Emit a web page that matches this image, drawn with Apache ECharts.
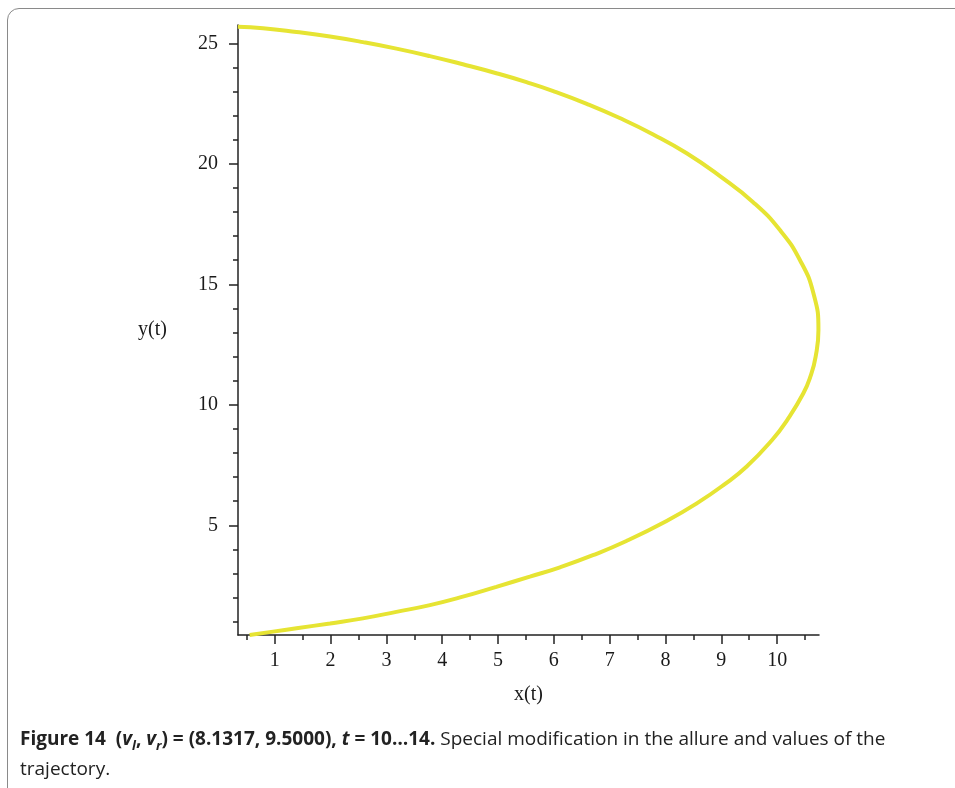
<!DOCTYPE html>
<html>
<head>
<meta charset="utf-8">
<script src="https://cdn.jsdelivr.net/npm/echarts@6/dist/echarts.min.js"></script>
<style>
  html, body {
    margin: 0;
    padding: 0;
    background: #ffffff;
    width: 955px;
    height: 788px;
    overflow: hidden;
  }
  .frame {
    position: absolute;
    left: 7px;
    top: 8px;
    width: 1200px;
    height: 1000px;
    border: 1px solid #8a8a8a;
    border-radius: 12px;
  }
  #chart {
    position: absolute;
    left: 0;
    top: 0;
    width: 955px;
    height: 788px;
  }
  .caption {
    position: absolute;
    left: 20px;
    top: 723px;
    font-family: "Open Sans", "Noto Sans", sans-serif;
    font-size: 19px;
    line-height: 30px;
    color: #222;
    white-space: nowrap;
  }
  .caption b {
    font-weight: 700;
  }
  .caption sub {
    font-size: 13px;
    line-height: 0;
  }
</style>
</head>
<body>
<div class="frame"></div>
<div id="chart"></div>
<div class="caption" id="caption"><b>Figure 14&nbsp; (<i>v<sub>l</sub></i>, <i>v<sub>r</sub></i>) = (8.1317, 9.5000), <i>t</i> = 10…14.</b> Special modification in the allure and values of the<br>trajectory.</div>

<script>
// trajectory points: x(t), y(t)
const xs = [0.34, 0.79, 1.39, 1.99, 2.58, 3.18, 3.78, 4.37, 4.97, 5.51, 5.99, 6.59, 7.18, 7.78, 8.38, 8.97, 9.57, 10.05, 10.41, 10.65, 10.74,
            10.69, 10.60, 10.47, 10.18, 9.91, 9.45, 9.05, 8.56, 8.02, 7.30, 6.70, 6.11, 5.57, 4.97, 4.37, 3.78, 3.18, 2.58, 1.99, 1.39, 0.97, 0.55]
const ys = [25.69, 25.63, 25.47, 25.28, 25.05, 24.78, 24.47, 24.13, 23.76, 23.39, 23.02, 22.49, 21.90, 21.22, 20.44, 19.50, 18.41, 17.25, 16.00, 14.63, 13.10,
            12.00, 11.20, 10.48, 9.37, 8.54, 7.43, 6.69, 5.91, 5.18, 4.35, 3.76, 3.26, 2.87, 2.45, 2.04, 1.69, 1.41, 1.14, 0.93, 0.73, 0.59, 0.45]

const xMajor = [1, 2, 3, 4, 5, 6, 7, 8, 9, 10]
const xMinor = [0.5, 1.5, 2.5, 3.5, 4.5, 5.5, 6.5, 7.5, 8.5, 9.5, 10.5]
const yMajor = [5, 10, 15, 20, 25]
const yMinor = [1, 2, 3, 4, 6, 7, 8, 9, 11, 12, 13, 14, 16, 17, 18, 19, 21, 22, 23, 24]

const xRange = [0.342, 10.75]
const yRange = [0.45, 25.76]

const labelFont = {
  fontFamily: '"Liberation Serif", "DejaVu Serif", serif',
  fontSize: 20,
  color: '#1a1a1a'
}

const chart = echarts.init(document.getElementById('chart'))

const axisLine = { show: true, onZero: false, lineStyle: { color: '#222', width: 1.5 } }

const option = {
  animation: false,
  backgroundColor: 'transparent',
  grid: {
    left: 238,
    top: 25,
    right: 136,
    bottom: 153
  },
  xAxis: [
    {
      type: 'value',
      min: xRange[0],
      max: xRange[1],
      name: 'x(t)',
      nameLocation: 'middle',
      nameGap: 50,
      nameTextStyle: labelFont,
      axisLine: axisLine,
      axisTick: { show: true, customValues: xMajor, length: 9, lineStyle: { color: '#222', width: 1.5 } },
      axisLabel: Object.assign({ customValues: xMajor, margin: 16 }, labelFont),
      splitLine: { show: false }
    },
    {
      type: 'value',
      min: xRange[0],
      max: xRange[1],
      position: 'bottom',
      axisLine: { show: false },
      axisTick: { show: true, customValues: xMinor, length: 5, lineStyle: { color: '#222', width: 1.5 } },
      axisLabel: { show: false },
      splitLine: { show: false }
    }
  ],
  yAxis: [
    {
      type: 'value',
      min: yRange[0],
      max: yRange[1],
      name: 'y(t)',
      nameLocation: 'middle',
      nameRotate: 0,
      nameGap: 71,
      nameTextStyle: Object.assign({ padding: [10, 0, 0, 0] }, labelFont),
      axisLine: axisLine,
      axisTick: { show: true, customValues: yMajor, length: 9, lineStyle: { color: '#222', width: 1.5 } },
      axisLabel: Object.assign({ customValues: yMajor, margin: 20 }, labelFont),
      splitLine: { show: false }
    },
    {
      type: 'value',
      min: yRange[0],
      max: yRange[1],
      position: 'left',
      axisLine: { show: false },
      axisTick: { show: true, customValues: yMinor, length: 5, lineStyle: { color: '#222', width: 1.5 } },
      axisLabel: { show: false },
      splitLine: { show: false }
    }
  ],
  series: [
    {
      type: 'line',
      xAxisIndex: 0,
      yAxisIndex: 0,
      data: xs.map((x, i) => [x, ys[i]]),
      showSymbol: false,
      smooth: 0.5,
      clip: false,
      lineStyle: { color: '#e6e433', width: 4 }
    }
  ]
}

chart.setOption(option)
</script>
</body>
</html>
